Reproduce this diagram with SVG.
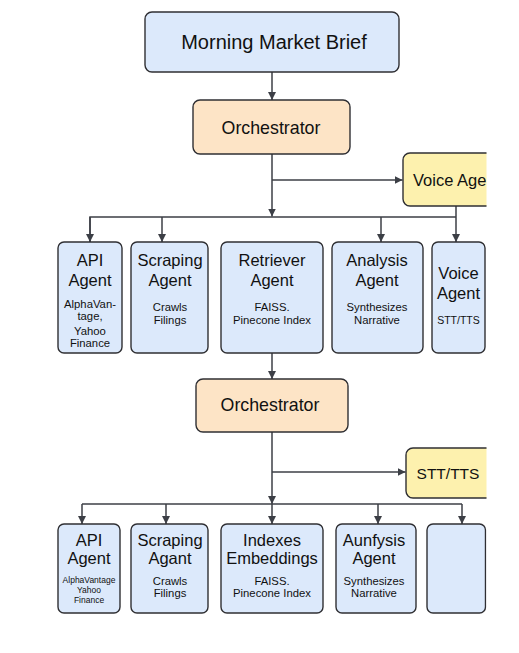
<svg xmlns="http://www.w3.org/2000/svg" width="519" height="653" viewBox="0 0 519 653">
<defs>
<style>
.box{stroke:#2f2f33;stroke-width:1.4}
.blue{fill:#dce9fb}
.orange{fill:#fde4c6}
.yellow{fill:#fdf1ae}
.conn{fill:none;stroke:#3c3f46;stroke-width:1.5}
text{font-family:"Liberation Sans",Arial,sans-serif;fill:#111;text-anchor:middle}
.t20{font-size:20px}
.t18{font-size:17.8px}
.t16{font-size:16.5px}
.t15{font-size:15.5px}
.s11{font-size:11.3px}
.s10{font-size:10.5px}
.s8{font-size:8.5px}
</style>
<marker id="arr" viewBox="0 0 10 10" refX="10" refY="5" markerWidth="8" markerHeight="8" markerUnits="userSpaceOnUse" orient="auto">
<path d="M0,0 L10,5 L0,10 z" fill="#3c3f46"/>
</marker>
<clipPath id="clip"><rect x="0" y="0" width="486.5" height="653"/></clipPath>
</defs>
<rect x="0" y="0" width="519" height="653" fill="#ffffff"/>
<g clip-path="url(#clip)">
<g id="connectors">
<line class="conn" x1="272" y1="72" x2="272" y2="100" marker-end="url(#arr)"/>
<line class="conn" x1="272" y1="154" x2="272" y2="216.5" marker-end="url(#arr)"/>
<line class="conn" x1="272" y1="180" x2="402.5" y2="180" marker-end="url(#arr)"/>
<polyline class="conn" points="90,242 90,217 456,217"/>
<line class="conn" x1="90" y1="217" x2="90" y2="242" marker-end="url(#arr)"/>
<line class="conn" x1="162" y1="217" x2="162" y2="242" marker-end="url(#arr)"/>
<line class="conn" x1="381" y1="217" x2="381" y2="242" marker-end="url(#arr)"/>
<line class="conn" x1="456" y1="206" x2="456" y2="242" marker-end="url(#arr)"/>
<line class="conn" x1="272" y1="353" x2="272" y2="379" marker-end="url(#arr)"/>
<line class="conn" x1="272" y1="432" x2="272" y2="504" marker-end="url(#arr)"/>
<line class="conn" x1="272" y1="472" x2="405.5" y2="472" marker-end="url(#arr)"/>
<line class="conn" x1="82" y1="504" x2="462" y2="504"/>
<line class="conn" x1="82" y1="504" x2="82" y2="524" marker-end="url(#arr)"/>
<line class="conn" x1="166" y1="504" x2="166" y2="524" marker-end="url(#arr)"/>
<line class="conn" x1="272" y1="504" x2="272" y2="524" marker-end="url(#arr)"/>
<line class="conn" x1="378" y1="504" x2="378" y2="524" marker-end="url(#arr)"/>
<line class="conn" x1="462" y1="504" x2="462" y2="524" marker-end="url(#arr)"/>
</g>
<g id="morning-market-brief">
<rect class="box blue" x="145" y="12" width="254" height="60" rx="7"/>
<text class="t20" x="274" y="49">Morning Market Brief</text>
</g>
<g id="orchestrator-1">
<rect class="box orange" x="193" y="100" width="157" height="54" rx="7"/>
<text class="t18" x="271" y="133.5">Orchestrator</text>
</g>
<g id="voice-agent-top">
<rect class="box yellow" x="403" y="153" width="100" height="53" rx="7"/>
<text class="t16" x="413" y="186" style="text-anchor:start">Voice Agent</text>
</g>
<g id="api-agent-1">
<rect class="box blue" x="58" y="242" width="64" height="111" rx="6"/>
<text class="t16" x="90" y="266">API</text>
<text class="t16" x="90" y="286">Agent</text>
<text class="s11" x="90" y="308">AlphaVan-</text>
<text class="s11" x="90" y="320">tage,</text>
<text class="s11" x="90" y="335">Yahoo</text>
<text class="s11" x="90" y="347">Finance</text>
</g>
<g id="scraping-agent-1">
<rect class="box blue" x="131" y="242" width="77" height="111" rx="6"/>
<text class="t16" x="170" y="266">Scraping</text>
<text class="t16" x="170" y="286">Agent</text>
<text class="s11" x="170" y="311">Crawls</text>
<text class="s11" x="170" y="324">Filings</text>
</g>
<g id="retriever-agent">
<rect class="box blue" x="221" y="242" width="102" height="111" rx="6"/>
<text class="t16" x="272" y="266">Retriever</text>
<text class="t16" x="272" y="286">Agent</text>
<text class="s11" x="272" y="311">FAISS.</text>
<text class="s11" x="272" y="324">Pinecone Index</text>
</g>
<g id="analysis-agent">
<rect class="box blue" x="332" y="242" width="91" height="111" rx="6"/>
<text class="t16" x="377" y="266">Analysis</text>
<text class="t16" x="377" y="286">Agent</text>
<text class="s11" x="377" y="311">Synthesizes</text>
<text class="s11" x="377" y="324">Narrative</text>
</g>
<g id="voice-agent-1">
<rect class="box blue" x="432" y="242" width="53" height="111" rx="6"/>
<text class="t16" x="458.5" y="279">Voice</text>
<text class="t16" x="458.5" y="299">Agent</text>
<text class="s10" x="458.5" y="324">STT/TTS</text>
</g>
<g id="orchestrator-2">
<rect class="box orange" x="196" y="379" width="152" height="53" rx="7"/>
<text class="t18" x="270" y="411">Orchestrator</text>
</g>
<g id="stt-tts">
<rect class="box yellow" x="406" y="448" width="100" height="50" rx="7"/>
<text class="t15" x="448" y="478.5">STT/TTS</text>
</g>
<g id="api-agent-2">
<rect class="box blue" x="58" y="524" width="62" height="89" rx="6"/>
<text class="t16" x="89" y="546">API</text>
<text class="t16" x="89" y="564">Agent</text>
<text class="s8" x="89" y="583">AlphaVantage</text>
<text class="s8" x="89" y="593">Yahoo</text>
<text class="s8" x="89" y="603">Finance</text>
</g>
<g id="scraping-agent-2">
<rect class="box blue" x="131" y="524" width="77" height="89" rx="6"/>
<text class="t16" x="170" y="546">Scraping</text>
<text class="t16" x="170" y="564">Agant</text>
<text class="s11" x="170" y="585">Crawls</text>
<text class="s11" x="170" y="597">Filings</text>
</g>
<g id="indexes-embeddings">
<rect class="box blue" x="221" y="524" width="102" height="89" rx="6"/>
<text class="t16" x="272" y="546">Indexes</text>
<text class="t16" x="272" y="564">Embeddings</text>
<text class="s11" x="272" y="585">FAISS.</text>
<text class="s11" x="272" y="597">Pinecone Index</text>
</g>
<g id="aunfysis-agent">
<rect class="box blue" x="336" y="524" width="80" height="89" rx="6"/>
<text class="t16" x="374" y="546">Aunfysis</text>
<text class="t16" x="374" y="564">Agent</text>
<text class="s11" x="374" y="585">Synthesizes</text>
<text class="s11" x="374" y="597">Narrative</text>
</g>
<g id="blank-box">
<rect class="box blue" x="427" y="524" width="58.5" height="89" rx="6"/>
</g>
</g>
</svg>
